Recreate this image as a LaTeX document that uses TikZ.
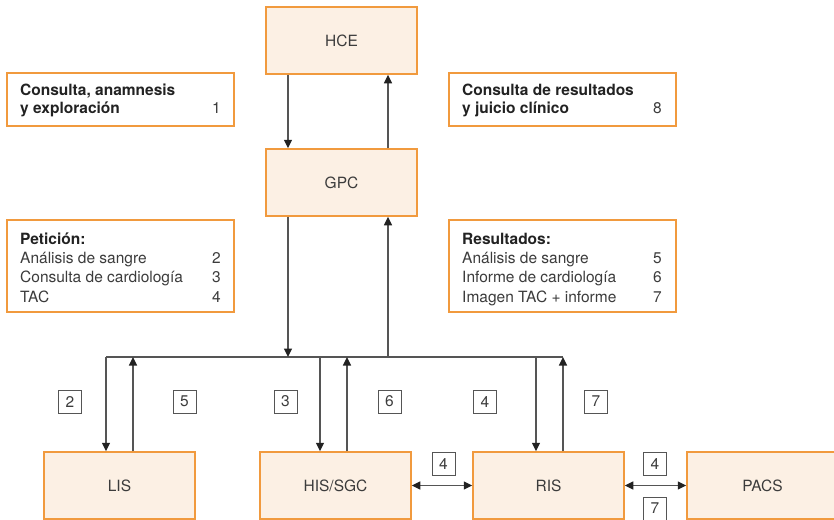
\documentclass[tikz,border=0pt]{standalone}
\usepackage{fontspec}
\setmainfont{TeX Gyre Heros}
\usetikzlibrary{arrows.meta}
\definecolor{obord}{HTML}{F19A3E}
\definecolor{ofill}{HTML}{FCF0E4}
\definecolor{lin}{HTML}{555555}
\definecolor{tip}{HTML}{222222}
\definecolor{txt}{HTML}{3C3C3C}
\definecolor{btxt}{HTML}{222222}
\begin{document}
\begin{tikzpicture}[x=1pt,y=-1pt,
  font=\fontsize{15.5}{19}\selectfont,
  sysbox/.style={draw=obord,line width=1.5pt,fill=ofill,minimum width=151pt,minimum height=67pt,inner sep=0pt,text=txt},
  infobox/.style={draw=obord,line width=1.5pt,fill=white,minimum width=227pt,inner sep=0pt},
  ltxt/.style={anchor=base west,inner sep=0pt,text=txt},
  btx/.style={anchor=base west,inner sep=0pt,text=btxt,font=\fontsize{15.5}{19}\selectfont\bfseries},
  ntxt/.style={anchor=base east,inner sep=0pt,text=txt},
  numbox/.style={draw=lin,line width=1pt,minimum width=23pt,minimum height=23pt,inner sep=0pt,text=txt},
  conn/.style={draw=lin,line width=1.3pt},
  arr/.style={conn,-{Triangle[length=8.5pt,width=8pt,color=tip]}},
  darr/.style={conn,{Triangle[length=8.5pt,width=8pt,color=tip]}-{Triangle[length=8.5pt,width=8pt,color=tip]}}
]
\useasboundingbox (0,0) rectangle (834,519);
\clip (0,0) rectangle (834,519);

% system boxes
\node[sysbox] (hce) at (341.5,40.5) {HCE};
\node[sysbox] (gpc) at (341.5,182.5) {GPC};
\node[sysbox] (lis) at (119.5,485.5) {LIS};
\node[sysbox] (his) at (335.5,485.5) {HIS/SGC};
\node[sysbox] (ris) at (548.5,485.5) {RIS};
\node[sysbox] (pacs) at (762.5,485.5) {PACS};

% info boxes
\node[infobox,minimum height=53pt] (b1) at (120.5,99.5) {};
\node[infobox,minimum height=53pt] (b8) at (562.5,99.5) {};
\node[infobox,minimum height=92pt] (bp) at (120.5,266) {};
\node[infobox,minimum height=92pt] (br) at (562.5,266) {};

\node[btx] (t1a) at (20,95) {Consulta, anamnesis};
\node[btx] (t1b) at (20,113.5) {y exploración};
\node[ntxt] (n1) at (221,113.5) {1};

\node[btx] (t8a) at (462,95) {Consulta de resultados};
\node[btx] (t8b) at (462,113.5) {y juicio clínico};
\node[ntxt] (n8) at (662,113.5) {8};

\node[btx] (tpa) at (20,244) {Petición:};
\node[ltxt] (tpb) at (20,263.3) {Análisis de sangre};
\node[ltxt] (tpc) at (20,282.6) {Consulta de cardiología};
\node[ltxt] (tpd) at (20,302) {TAC};
\node[ntxt] (np2) at (221,263.3) {2};
\node[ntxt] (np3) at (221,282.6) {3};
\node[ntxt] (np4) at (221,302) {4};

\node[btx] (tra) at (462,244) {Resultados:};
\node[ltxt] (trb) at (462,263.3) {Análisis de sangre};
\node[ltxt] (trc) at (462,282.6) {Informe de cardiología};
\node[ltxt] (trd) at (462,302) {Imagen TAC + informe};
\node[ntxt] (nr5) at (662,263.3) {5};
\node[ntxt] (nr6) at (662,282.6) {6};
\node[ntxt] (nr7) at (662,302) {7};

% coordinates
\coordinate (xa) at (288,0);
\coordinate (xb) at (388,0);
\coordinate (busL) at (106,357);
\coordinate (busR) at (563,357);
\coordinate (x133) at (133,0);
\coordinate (x320) at (320,0);
\coordinate (x347) at (347,0);
\coordinate (x536) at (536,0);

% HCE <-> GPC
\draw[arr] (hce.south -| xa) -- (gpc.north -| xa);
\draw[arr] (gpc.north -| xb) -- (hce.south -| xb);

% GPC <-> bus
\draw[conn] (busL) -- (busR);
\draw[arr] (gpc.south -| xa) -- (busL -| xa);
\draw[arr] (busL -| xb) -- (gpc.south -| xb);

% drops
\draw[arr] (busL) -- (lis.north -| busL);
\draw[arr] (lis.north -| x133) -- (busL -| x133);
\draw[arr] (busL -| x320) -- (his.north -| x320);
\draw[arr] (his.north -| x347) -- (busL -| x347);
\draw[arr] (busL -| x536) -- (ris.north -| x536);
\draw[arr] (ris.north -| busR) -- (busR);

% horizontal links
\draw[darr] (his.east) -- (ris.west);
\draw[darr] (ris.east) -- (pacs.west);

% number labels
\node[numbox] (l2) at (70,401.5) {2};
\node[numbox] (l5) at (184.5,401.5) {5};
\node[numbox] (l3) at (285.5,401.5) {3};
\node[numbox] (l6) at (389.5,401.5) {6};
\node[numbox] (l4a) at (485,401.5) {4};
\node[numbox] (l7a) at (596,401.5) {7};
\node[numbox] (l4b) at (443.5,463.5) {4};
\node[numbox] (l4c) at (655,463.5) {4};
\node[numbox] (l7b) at (655,508.5) {7};
\end{tikzpicture}
\end{document}
